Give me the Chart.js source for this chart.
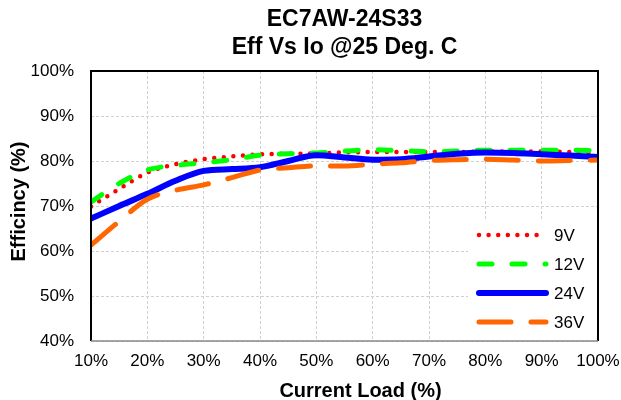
<!DOCTYPE html>
<html><head><meta charset="utf-8">
<script src="https://cdn.jsdelivr.net/npm/chart.js@4.4.1/dist/chart.umd.min.js"></script>
<style>html,body{margin:0;padding:0;background:#fff}</style>
</head><body>
<canvas id="c" width="621" height="400" style="width:621px;height:400px;display:block"></canvas>
<script>
// ---- data ----
const loads  = [10,15,20,25,30,35,40,45,50,55,60,65,70,75,80,85,90,95,100];
const eff9V  = [69.9,73.8,77.4,79.3,80.4,81.0,81.5,81.6,81.7,81.9,82.0,82.0,82.0,82.0,82.1,82.1,82.1,82.0,81.8];
const eff12V = [70.9,75.0,78.0,79.0,79.6,80.3,81.3,81.6,81.8,82.2,82.5,82.3,82.1,82.2,82.4,82.4,82.4,82.4,82.3];
const eff24V = [67.2,70.0,72.7,75.6,77.8,78.2,78.6,80.0,81.3,80.8,80.3,80.4,81.0,81.6,81.9,81.8,81.5,81.2,80.9];
const eff36V = [61.3,66.6,71.5,73.5,74.7,76.3,78.0,78.5,78.9,78.9,79.3,79.6,80.1,80.3,80.4,80.2,80.0,80.1,80.2];
const seriesNames = ['9V','12V','24V','36V'];
const titleLines = ['EC7AW-24S33','Eff Vs Io @25 Deg. C'];
const xTitle = 'Current Load (%)';
const yTitle = 'Efficincy (%)';
const xRange = [10,100];
const yRange = [40,100];

const FONT = "'Liberation Sans', Arial, sans-serif";
const pts = arr => loads.map((x,i)=>({x:x,y:arr[i]}));

const styles = [
  {color:'#FF0000', width:4.5, dash:[0,9.6]},
  {color:'#00FF00', width:5, dash:[13,20]},
  {color:'#0000FF', width:6, dash:[]},
  {color:'#FF6600', width:5, dash:[32,20]}
];
const seriesData = [eff9V, eff12V, eff24V, eff36V];

const datasets = seriesData.map((arr,i)=>({
  label: seriesNames[i],
  data: pts(arr),
  borderColor: styles[i].color,
  backgroundColor: styles[i].color,
  borderWidth: styles[i].width,
  borderDash: styles[i].dash,
  borderCapStyle: 'round',
  borderJoinStyle: 'round',
  pointRadius: 0,
  cubicInterpolationMode: 'monotone',
  fill: false,
  order: 3 - i
}));

const decor = {
  id: 'decor',
  afterDatasetsDraw(chart) {
    const ctx = chart.ctx, a = chart.chartArea;
    ctx.save();
    // legend box
    ctx.fillStyle = '#fff';
    ctx.fillRect(468, 220, a.right - 468, a.bottom - 220);
    const rows = [235, 264, 293, 322];
    chart.data.datasets.forEach((ds, i) => {
      ctx.save();
      ctx.strokeStyle = ds.borderColor;
      ctx.lineWidth = ds.borderWidth;
      ctx.lineCap = 'round';
      ctx.setLineDash(ds.borderDash);
      ctx.beginPath();
      ctx.moveTo(479, rows[i]);
      ctx.lineTo(546, rows[i]);
      ctx.stroke();
      ctx.restore();
      ctx.fillStyle = '#000';
      ctx.font = '17px ' + FONT;
      ctx.textAlign = 'left';
      ctx.textBaseline = 'middle';
      ctx.fillText(ds.label, 554, rows[i] + 1);
    });
    // frame
    ctx.setLineDash([]);
    ctx.lineCap = 'butt';
    ctx.strokeStyle = '#000';
    ctx.lineWidth = 2;
    ctx.beginPath();
    ctx.moveTo(a.left, a.bottom);
    ctx.lineTo(a.left, a.top);
    ctx.lineTo(a.right, a.top);
    ctx.lineTo(a.right, a.bottom);
    ctx.stroke();
    ctx.strokeStyle = '#888';
    ctx.lineWidth = 1.5;
    ctx.beginPath();
    ctx.moveTo(a.left, a.bottom);
    ctx.lineTo(a.right, a.bottom);
    ctx.stroke();
    // axis titles
    ctx.fillStyle = '#000';
    ctx.font = 'bold 20px ' + FONT;
    ctx.textAlign = 'center';
    ctx.textBaseline = 'alphabetic';
    ctx.fillText(xTitle, 360.5, 397);
    ctx.save();
    ctx.translate(24.5, 201.5);
    ctx.rotate(-Math.PI/2);
    ctx.fillText(yTitle, 0, 0);
    ctx.restore();
    ctx.restore();
  }
};

new Chart(document.getElementById('c'), {
  type: 'line',
  data: { datasets },
  options: {
    responsive: false,
    animation: false,
    devicePixelRatio: 1,
    layout: { padding: { left: 0, right: 23, top: 0, bottom: 0 } },
    plugins: {
      legend: { display: false },
      tooltip: { enabled: false },
      title: {
        display: true,
        text: titleLines,
        fullSize: false,
        color: '#000',
        font: { family: FONT, size: 23, weight: 'bold', lineHeight: 1.2 },
        padding: { top: 6, bottom: 9.8 }
      }
    },
    scales: {
      x: {
        type: 'linear',
        min: xRange[0], max: xRange[1],
        border: { display: false, dash: [3,2] },
        grid: { color: '#d0d0d0', lineWidth: 1, drawTicks: false, tickLength: 0 },
        ticks: {
          stepSize: 10, padding: 10, color: '#000',
          font: { family: FONT, size: 17 },
          callback: v => v + '%', maxRotation: 0, autoSkip: false
        },
        afterFit(s) { s.height = 59; s.paddingLeft = 0; s.paddingRight = 0; }
      },
      y: {
        min: yRange[0], max: yRange[1],
        border: { display: false, dash: [3,2] },
        grid: { color: '#d0d0d0', lineWidth: 1, drawTicks: false, tickLength: 0 },
        ticks: {
          stepSize: 10, padding: 17, color: '#000',
          font: { family: FONT, size: 17 },
          callback: v => v + '%'
        },
        afterFit(s) { s.width = 91; s.paddingTop = 0; s.paddingBottom = 0; }
      }
    }
  },
  plugins: [decor]
});
</script>
</body></html>
